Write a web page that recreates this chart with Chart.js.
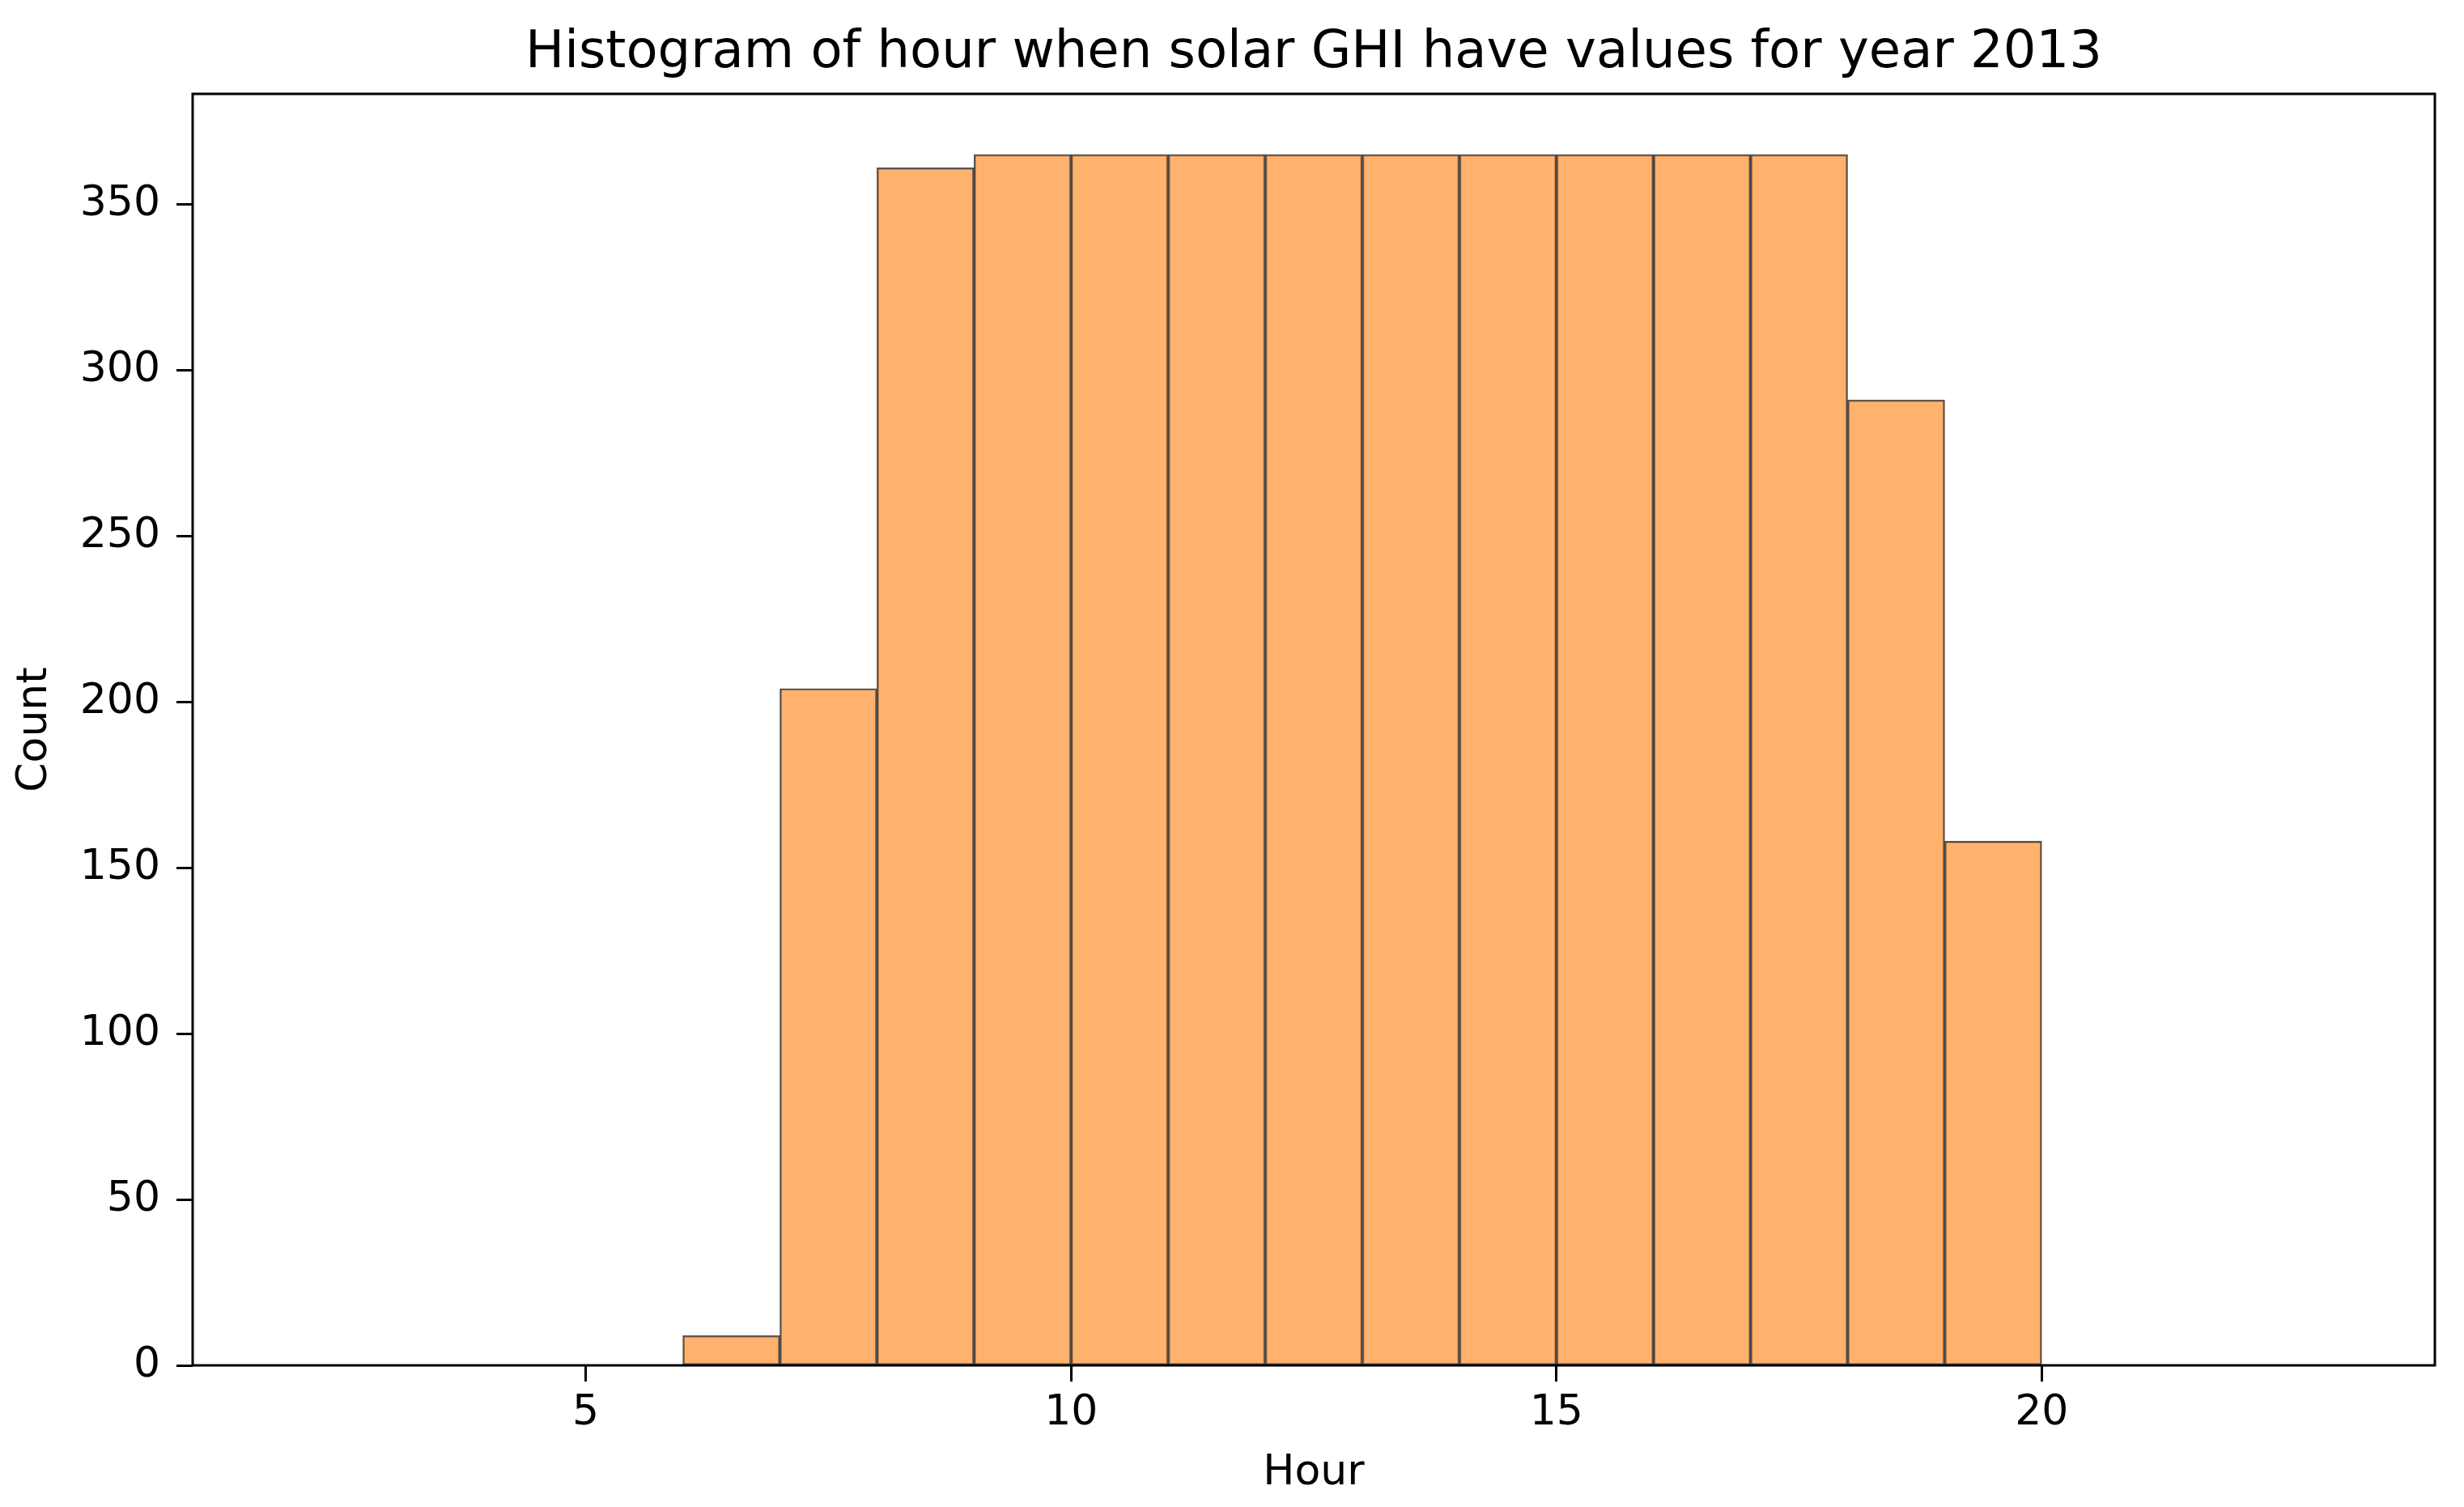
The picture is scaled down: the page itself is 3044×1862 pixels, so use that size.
<!DOCTYPE html>
<html>
<head>
<meta charset="utf-8">
<script src="https://cdn.jsdelivr.net/npm/chart.js@4.4.1/dist/chart.umd.min.js"></script>
<style>
  html, body { margin: 0; padding: 0; background: #ffffff; }
  #wrap { width: 3044px; height: 1862px; }
</style>
</head>
<body>
<div id="wrap"><canvas id="histChart" width="3044" height="1862"></canvas></div>
<script>
// histogram bins (left edge of each 1 hour bin) and counts per bin
const binEdges = [2, 3, 4, 5, 6, 7, 8, 9, 10, 11, 12, 13, 14, 15, 16, 17, 18, 19, 20, 21, 22];
const counts   = [0, 0, 0, 0, 9, 204, 361, 365, 365, 365, 365, 365, 365, 365, 365, 365, 291, 158, 0, 0, 0];
const binWidth = 1;

const xTicks = [5, 10, 15, 20];
const yTicks = [0, 50, 100, 150, 200, 250, 300, 350];

const titleText = 'Histogram of hour when solar GHI have values for year 2013';
const xLabel = 'Hour';
const yLabel = 'Count';

const FONT = "'DejaVu Sans', sans-serif";

// black box around the plot area (like matplotlib spines) + title centred over the axes
const frameBox = {
    id: 'frameBox',
    afterDatasetsDraw(chart) {
        const { ctx, chartArea: a } = chart;
        ctx.save();
        ctx.strokeStyle = '#000000';
        ctx.lineWidth = 3;
        ctx.strokeRect(a.left, a.top, a.right - a.left, a.bottom - a.top);
        ctx.restore();
    },
    afterDraw(chart) {
        const { ctx, chartArea: a } = chart;
        ctx.save();
        ctx.fillStyle = '#000000';
        ctx.font = '64px ' + FONT;
        ctx.textAlign = 'center';
        ctx.textBaseline = 'middle';
        ctx.fillText(titleText, (a.left + a.right) / 2, 66);
        ctx.restore();
    }
};

function initChart() {
    const ctx = document.getElementById('histChart').getContext('2d');
    const points = binEdges.map((e, i) => ({ x: e + binWidth / 2, y: counts[i] }));

    new Chart(ctx, {
        type: 'bar',
        data: {
            datasets: [{
                label: 'hour',
                data: points,
                backgroundColor: 'rgba(255, 127, 14, 0.6)',
                borderColor: 'rgba(0, 0, 0, 0.68)',
                borderWidth: 2,
                borderSkipped: false,
                barPercentage: 1,
                categoryPercentage: 1,
                grouped: false
            }]
        },
        options: {
            responsive: false,
            devicePixelRatio: 1,
            animation: false,
            layout: { padding: { left: 0, right: 36, top: 116, bottom: 0 } },
            plugins: {
                legend: { display: false },
                tooltip: { enabled: false },
                title: { display: false }
            },
            scales: {
                x: {
                    type: 'linear',
                    min: 0.95,
                    max: 24.05,
                    offset: false,
                    afterBuildTicks: s => { s.ticks = xTicks.map(v => ({ value: v })); },
                    afterFit: s => { s.height = 175; },
                    border: { display: false },
                    grid: {
                        drawOnChartArea: false,
                        drawTicks: true,
                        tickLength: 20,
                        tickWidth: 3,
                        tickColor: '#000000',
                        offset: false
                    },
                    ticks: {
                        color: '#000000',
                        font: { family: FONT, size: 52 },
                        padding: 8,
                        maxRotation: 0
                    },
                    title: {
                        display: true,
                        text: xLabel,
                        color: '#000000',
                        font: { family: FONT, size: 52 },
                        padding: { top: 0, bottom: 10 }
                    }
                },
                y: {
                    min: 0,
                    max: 383.25,
                    afterBuildTicks: s => { s.ticks = yTicks.map(v => ({ value: v })); },
                    afterFit: s => { s.width = 238; },
                    border: { display: false },
                    grid: {
                        drawOnChartArea: false,
                        drawTicks: true,
                        tickLength: 20,
                        tickWidth: 3,
                        tickColor: '#000000'
                    },
                    ticks: {
                        color: '#000000',
                        font: { family: FONT, size: 52 },
                        padding: 20
                    },
                    title: {
                        display: true,
                        text: yLabel,
                        color: '#000000',
                        font: { family: FONT, size: 52 },
                        padding: { top: 12, bottom: 0 }
                    }
                }
            }
        },
        plugins: [frameBox]
    });
}

initChart();
</script>
</body>
</html>
